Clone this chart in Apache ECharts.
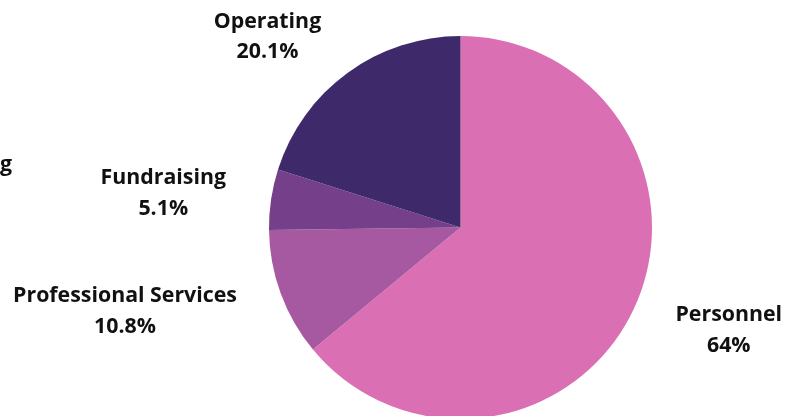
<!DOCTYPE html>
<html>
<head>
<meta charset="utf-8">
<script src="https://cdn.jsdelivr.net/npm/echarts@6/dist/echarts.min.js"></script>
<style>html,body{margin:0;padding:0;background:#fff;}#c{width:786px;height:416px;}</style>
</head>
<body>
<div id="c"></div>
<script>
var categories = ['Personnel', 'Professional Services', 'Fundraising', 'Operating'];
var values = [64, 10.8, 5.1, 20.1];
var colors = ['#DA6FB4', '#A658A0', '#763F89', '#3E2A6B'];
var lineLen = [50.5, 52, 39.5, 44.5];
var lineLen2 = [-4, -5, 6, 0];

var chart = echarts.init(document.getElementById('c'));
chart.setOption({
  animation: false,
  graphic: [{
    type: 'text', right: 774, top: 154,
    style: { text: 'Programming', font: 'bold 21.33px "Open Sans"', fill: '#111', textAlign: 'right' }
  }],
  series: [{
    type: 'pie',
    center: [460.5, 227.5],
    radius: 191.5,
    startAngle: 90,
    clockwise: true,
    avoidLabelOverlap: false,
    itemStyle: { borderWidth: 0 },
    emphasis: { disabled: true },
    label: {
      show: true,
      position: 'outside',
      distanceToLabelLine: 0,
      formatter: function (p) { return '{c|' + p.name + '}\n{c|' + p.value + '%}'; },
      rich: {
        c: { align: 'center', fontFamily: 'Open Sans', fontWeight: 'bold', fontSize: 21.33, lineHeight: 30.5, color: '#111' }
      }
    },
    labelLine: { show: false },
    data: categories.map(function (n, i) {
      return {
        name: n, value: values[i],
        itemStyle: { color: colors[i] },
        labelLine: { show: false, length: lineLen[i], length2: lineLen2[i] }
      };
    })
  }]
});
</script>
</body>
</html>
